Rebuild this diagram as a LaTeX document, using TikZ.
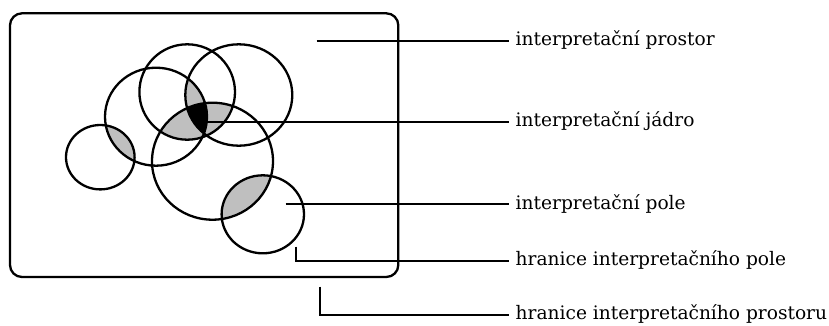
\documentclass[tikz,border=0pt]{standalone}
\usepackage{fontspec}
\setmainfont{DejaVu Serif}
\begin{document}
\begin{tikzpicture}[x=1pt,y=-1pt,
  ring/.style={draw=black,line width=2.3pt},
  leader/.style={draw=black,line width=1.9pt},
  lbl/.style={anchor=base west,inner xsep=7pt,inner ysep=0pt,
    font=\fontsize{18.6pt}{20pt}\selectfont},
  shade/.style={fill=black!25},
  % the overlapping fields
  cS/.style={insert path={(100.3,157.2) ellipse [x radius=34.3, y radius=32.2]}},
  cA/.style={insert path={(156,116.7) ellipse [x radius=51, y radius=49]}},
  cB/.style={insert path={(187.2,92) ellipse [x radius=47.8, y radius=47.7]}},
  cC/.style={insert path={(238.8,95) ellipse [x radius=53.5, y radius=50.7]}},
  cD/.style={insert path={(212.5,161.2) ellipse [x radius=60.5, y radius=58.5]}},
  cE/.style={insert path={(262.8,214.3) ellipse [x radius=41.2, y radius=39]}}]
\useasboundingbox (0,0) rectangle (829,325);

% shared regions
\begin{scope}\clip[cS]; \path[shade,cA]; \end{scope}
\begin{scope}\clip[cD]; \path[shade,cE]; \end{scope}
\begin{scope}\clip[cB]; \clip[cA]; \path[shade,cC]; \end{scope}
\begin{scope}\clip[cB]; \clip[cA]; \path[shade,cD]; \end{scope}
\begin{scope}\clip[cB]; \clip[cC]; \path[shade,cD]; \end{scope}
% the core
\begin{scope}\clip[cB]; \clip[cA]; \clip[cC]; \path[fill=black,cD]; \end{scope}

% outlines of the fields
\foreach \c in {cS,cA,cB,cC,cD,cE} \path[ring,\c];

% the space
\draw[line width=2.3pt,rounded corners=12pt] (10,13.3) rectangle (398.3,277);

% labels
\node[lbl] (t1) at (508.5,45.5) {interpretační prostor};
\node[lbl] (t2) at (508.5,126.5) {interpretační jádro};
\node[lbl] (t3) at (508.5,209.1) {interpretační pole};
\node[lbl] (t4) at (508.5,265.8) {hranice interpretačního pole};
\node[lbl] (t5) at (508.5,319.8) {hranice interpretačního prostoru};

% leader anchors
\coordinate (p1) at (316.7,40.7);
\coordinate (p2) at (203,121.7);
\coordinate (p3) at (285.5,204.3);
\coordinate (p4) at (295.7,246.7);
\coordinate (p5) at (320,286.5);

\draw[leader] (p1) -- (t1.west |- p1);
\draw[leader] (p2) -- (t2.west |- p2);
\draw[leader] (p3) -- (t3.west |- p3);
\draw[leader] (p4) |- ([yshift=4.8pt]t4.base west);
\draw[leader] (p5) |- ([yshift=4.8pt]t5.base west);
\end{tikzpicture}
\end{document}
